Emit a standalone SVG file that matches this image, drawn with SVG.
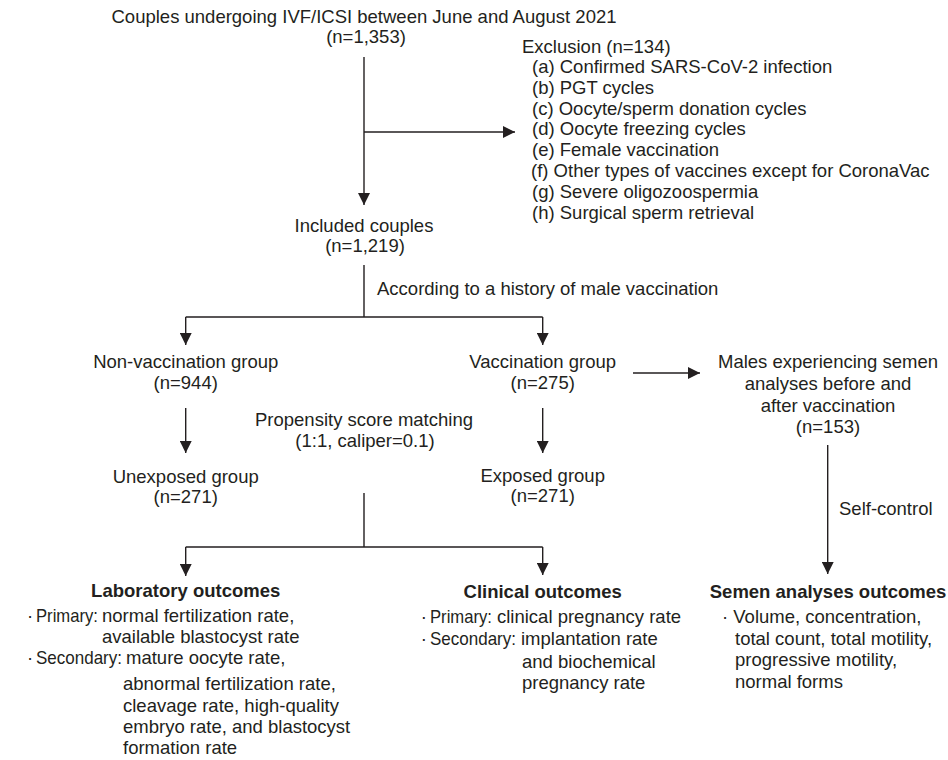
<svg xmlns="http://www.w3.org/2000/svg" width="948" height="760" viewBox="0 0 948 760">
<defs>
<style>
text{font-family:"Liberation Sans",Arial,Helvetica,sans-serif;font-size:18.5px;fill:#231f20}
.c{text-anchor:middle}
.b{font-weight:bold}
.ln{stroke:#231f20;stroke-width:1.4;fill:none}
</style>
<marker id="ah" markerUnits="userSpaceOnUse" markerWidth="12" markerHeight="12" refX="11" refY="5.5" orient="auto" viewBox="0 0 11 11">
<path d="M0,0 L11,5.5 L0,11 Z" fill="#231f20"/>
</marker>
</defs>
<rect width="948" height="760" fill="#ffffff"/>
<g id="connectors">
<line class="ln" x1="364" y1="57" x2="364" y2="205" marker-end="url(#ah)"/>
<line class="ln" x1="364" y1="132" x2="515" y2="132" marker-end="url(#ah)"/>
<path class="ln" d="M364,265 V317 M185.7,317 H542.7"/>
<line class="ln" x1="185.7" y1="317" x2="185.7" y2="345" marker-end="url(#ah)"/>
<line class="ln" x1="542.7" y1="317" x2="542.7" y2="345" marker-end="url(#ah)"/>
<line class="ln" x1="185.7" y1="408" x2="185.7" y2="453" marker-end="url(#ah)"/>
<line class="ln" x1="542.7" y1="408" x2="542.7" y2="453" marker-end="url(#ah)"/>
<line class="ln" x1="633" y1="373" x2="700" y2="373" marker-end="url(#ah)"/>
<line class="ln" x1="827.7" y1="445" x2="827.7" y2="574" marker-end="url(#ah)"/>
<path class="ln" d="M364,493 V547 M185.7,547 H542.7"/>
<line class="ln" x1="185.7" y1="547" x2="185.7" y2="576" marker-end="url(#ah)"/>
<line class="ln" x1="542.7" y1="547" x2="542.7" y2="575" marker-end="url(#ah)"/>
<text x="377" y="295">According to a history of male vaccination</text>
<text x="364" y="426" class="c">Propensity score matching</text>
<text x="365" y="447" class="c">(1:1, caliper=0.1)</text>
<text x="839" y="515">Self-control</text>
</g>
<g id="node-start">
<text x="364" y="22.5" class="c">Couples undergoing IVF/ICSI between June and August 2021</text>
<text x="366" y="43" class="c">(n=1,353)</text>
</g>
<g id="node-exclusion">
<text x="522" y="53">Exclusion (n=134)</text>
<text x="532" y="73">(a) Confirmed SARS-CoV-2 infection</text>
<text x="532" y="93.8">(b) PGT cycles</text>
<text x="532" y="114.6">(c) Oocyte/sperm donation cycles</text>
<text x="532" y="135.4">(d) Oocyte freezing cycles</text>
<text x="532" y="156.2">(e) Female vaccination</text>
<text x="531" y="177">(f) Other types of vaccines except for CoronaVac</text>
<text x="532" y="197.8">(g) Severe oligozoospermia</text>
<text x="532" y="218.6">(h) Surgical sperm retrieval</text>
</g>
<g id="node-included">
<text x="364" y="232" class="c">Included couples</text>
<text x="365" y="252" class="c">(n=1,219)</text>
</g>
<g id="node-nonvacc">
<text x="185.7" y="368" class="c">Non-vaccination group</text>
<text x="185.7" y="389" class="c">(n=944)</text>
</g>
<g id="node-vacc">
<text x="542.7" y="368" class="c">Vaccination group</text>
<text x="542.7" y="389" class="c">(n=275)</text>
</g>
<g id="node-males">
<text x="828" y="368" class="c">Males experiencing semen</text>
<text x="828" y="390" class="c">analyses before and</text>
<text x="828" y="412" class="c">after vaccination</text>
<text x="828" y="433" class="c">(n=153)</text>
</g>
<g id="node-unexposed">
<text x="185.7" y="483" class="c">Unexposed group</text>
<text x="185.7" y="503" class="c">(n=271)</text>
</g>
<g id="node-exposed">
<text x="542.7" y="482" class="c">Exposed group</text>
<text x="542.7" y="502" class="c">(n=271)</text>
</g>
<g id="node-lab">
<text x="185.7" y="597" class="c b">Laboratory outcomes</text>
<text x="27" y="622">·</text>
<text x="36" y="622" textLength="62" lengthAdjust="spacingAndGlyphs">Primary:</text>
<text x="102" y="622">normal fertilization rate,</text>
<text x="102" y="643">available blastocyst rate</text>
<text x="27" y="664">·</text>
<text x="36" y="664" textLength="86" lengthAdjust="spacingAndGlyphs">Secondary:</text>
<text x="126" y="664">mature oocyte rate,</text>
<text x="123" y="690">abnormal fertilization rate,</text>
<text x="123" y="712">cleavage rate, high-quality</text>
<text x="123" y="733">embryo rate, and blastocyst</text>
<text x="123" y="754">formation rate</text>
</g>
<g id="node-clinical">
<text x="542.7" y="598" class="c b">Clinical outcomes</text>
<text x="420.7" y="623">·</text>
<text x="430" y="623" textLength="62" lengthAdjust="spacingAndGlyphs">Primary:</text>
<text x="497" y="623">clinical pregnancy rate</text>
<text x="420.7" y="645">·</text>
<text x="430" y="645" textLength="86" lengthAdjust="spacingAndGlyphs">Secondary:</text>
<text x="521" y="645">implantation rate</text>
<text x="522" y="668">and biochemical</text>
<text x="522" y="689">pregnancy rate</text>
</g>
<g id="node-semen">
<text x="828" y="598" class="c b">Semen analyses outcomes</text>
<text x="722" y="623">· Volume, concentration,</text>
<text x="735" y="645">total count, total motility,</text>
<text x="735" y="666">progressive motility,</text>
<text x="735" y="688">normal forms</text>
</g>
</svg>
